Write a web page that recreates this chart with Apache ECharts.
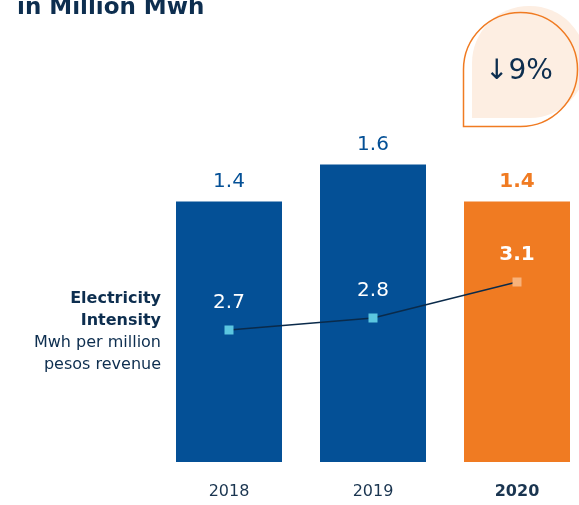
<!DOCTYPE html>
<html>
<head>
<meta charset="utf-8">
<script src="https://cdn.jsdelivr.net/npm/echarts@6/dist/echarts.min.js"></script>
<style>
    html, body { margin: 0; padding: 0; background: #fff; }
    #chart { width: 579px; height: 505px; }
</style>
</head>
<body>
<div id="chart"></div>
<script>
// 차트 데이터
var years = ['2018', '2019', '2020'];
var consumption = [1.4, 1.6, 1.4];   // 백만 Mwh
var intensity = [2.7, 2.8, 3.1];     // Mwh per million pesos revenue

var BLUE = '#045096';
var ORANGE = '#f07b22';
var NAVY = '#0d2e4f';
var FONT = '"DejaVu Sans", sans-serif';

function initChart(containerId) {
    var chart = echarts.init(document.getElementById(containerId));
    var last = years.length - 1;

    var barData = consumption.map(function(v, i) {
        var hi = i === last;
        return {
            value: v,
            itemStyle: { color: hi ? ORANGE : BLUE },
            label: {
                color: hi ? ORANGE : BLUE,
                fontWeight: hi ? 'bold' : 'normal'
            }
        };
    });

    var lineData = intensity.map(function(v, i) {
        var hi = i === last;
        return {
            value: v,
            itemStyle: { color: hi ? '#f8b27a' : '#5bc6e0' },
            label: { fontWeight: hi ? 'bold' : 'normal' }
        };
    });

    var option = {
        animation: false,
        grid: {
            left: 157,
            width: 432,
            top: 90,
            bottom: 43,
            outerBoundsMode: 'none'
        },
        xAxis: {
            type: 'category',
            data: years,
            axisLine: { show: false },
            axisTick: { show: false },
            axisLabel: {
                margin: 22,
                fontFamily: FONT,
                fontSize: 16,
                color: '#1a3550',
                formatter: function(v) {
                    return v === years[last] ? '{b|' + v + '}' : v;
                },
                rich: {
                    b: { fontFamily: FONT, fontSize: 16, fontWeight: 'bold', color: '#1a3550' }
                }
            }
        },
        yAxis: [{
            type: 'value',
            min: 0,
            max: 2,
            show: false
        }, {
            type: 'value',
            min: 1.6,
            max: 4.7,
            show: false
        }],
        series: [{
            type: 'bar',
            data: barData,
            barWidth: 106,
            label: {
                show: true,
                position: 'top',
                distance: 10,
                fontFamily: FONT,
                fontSize: 20
            }
        }, {
            type: 'line',
            yAxisIndex: 1,
            data: lineData,
            symbol: 'rect',
            symbolSize: 9,
            lineStyle: { color: '#0a2a4a', width: 1.3 },
            label: {
                show: true,
                position: 'top',
                distance: 13,
                color: '#fff',
                fontFamily: FONT,
                fontSize: 20
            },
            z: 5
        }],
        graphic: [{
            type: 'text',
            left: 17,
            top: -3,
            style: {
                text: 'in Million Mwh',
                font: 'bold 23px ' + FONT,
                fill: NAVY
            }
        }, {
            type: 'rect',
            shape: { x: 472, y: 6, width: 114, height: 112, r: [57, 57, 57, 0] },
            style: { fill: '#fdeee2' }
        }, {
            type: 'rect',
            shape: { x: 463.5, y: 12.5, width: 114, height: 114, r: [57, 57, 57, 0] },
            style: { fill: 'none', stroke: ORANGE, lineWidth: 1.5 }
        }, {
            type: 'text',
            x: 519,
            y: 72,
            style: {
                text: '↓9%',
                font: '28px ' + FONT,
                fill: NAVY,
                align: 'center',
                verticalAlign: 'middle'
            }
        }, {
            type: 'text',
            x: 161,
            y: 288,
            style: {
                text: '{b|Electricity}\n{b|Intensity}\n{n|Mwh per million}\n{n|pesos revenue}',
                align: 'right',
                rich: {
                    b: { font: 'bold 16px ' + FONT, fill: NAVY, lineHeight: 22 },
                    n: { font: '16px ' + FONT, fill: NAVY, lineHeight: 22 }
                }
            }
        }]
    };

    chart.setOption(option);

    window.addEventListener('resize', function() {
        chart.resize();
    });

    return chart;
}

initChart('chart');
</script>
</body>
</html>
